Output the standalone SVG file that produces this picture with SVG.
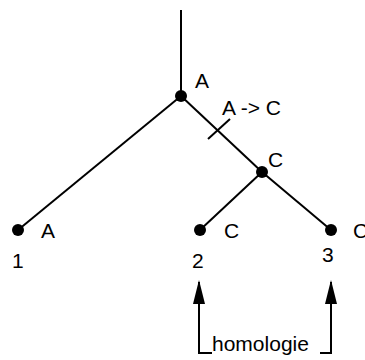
<svg xmlns="http://www.w3.org/2000/svg" width="365" height="360" viewBox="0 0 365 360">
<style>
.e{stroke:#000;stroke-width:2;fill:none}
.d{fill:#000}
.t{font-family:"Liberation Sans",Arial,sans-serif;font-size:21px;fill:#000}
</style>
<rect width="365" height="360" fill="#fff"/>
<g id="connectors">
<line class="e" x1="181" y1="10" x2="181" y2="96"/>
<line class="e" x1="181" y1="96" x2="18" y2="230"/>
<line class="e" x1="181" y1="96" x2="262" y2="172"/>
<line class="e" x1="262" y1="172" x2="200" y2="230"/>
<line class="e" x1="262" y1="172" x2="331" y2="230"/>
<line class="e" x1="208" y1="139" x2="230" y2="119"/>
<polyline class="e" points="212,353 199,353 199,282"/>
<polyline class="e" points="320,353 331,353 331,282"/>
<path d="M193,304 L199,280 L205,304 Z" class="d"/>
<path d="M325,304 L331,280 L337,304 Z" class="d"/>
</g>
<g id="root"><circle class="d" cx="181" cy="96" r="6"/><text class="t" x="195" y="88">A</text></g>
<g id="mutation"><text class="t" x="222" y="115">A -&gt; C</text></g>
<g id="nodeC"><circle class="d" cx="262" cy="172" r="6"/><text class="t" x="268" y="167">C</text></g>
<g id="leaf1"><circle class="d" cx="18" cy="230" r="6"/><text class="t" x="41" y="238">A</text><text class="t" x="12" y="268">1</text></g>
<g id="leaf2"><circle class="d" cx="200" cy="230" r="6"/><text class="t" x="224" y="238">C</text><text class="t" x="192" y="268">2</text></g>
<g id="leaf3"><circle class="d" cx="331" cy="230" r="6"/><text class="t" x="353" y="238">C</text><text class="t" x="322" y="262">3</text></g>
<g id="homologie"><text class="t" x="212" y="351">homologie</text></g>
</svg>
